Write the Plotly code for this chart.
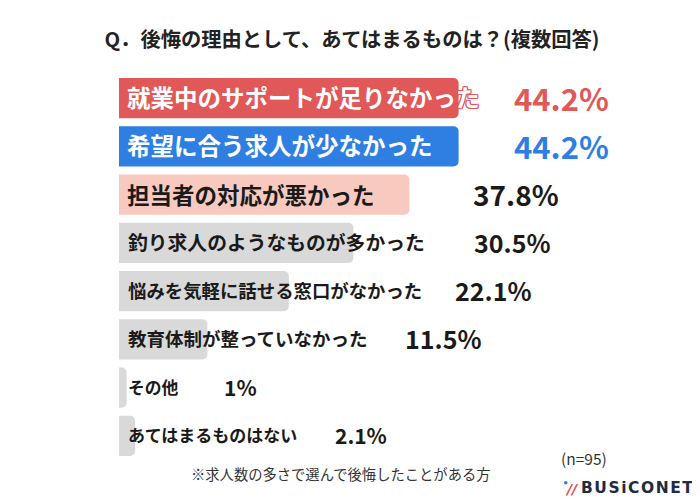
import plotly.graph_objects as go

# ---- data ----
categories = [
    "就業中のサポートが足りなかった",
    "希望に合う求人が少なかった",
    "担当者の対応が悪かった",
    "釣り求人のようなものが多かった",
    "悩みを気軽に話せる窓口がなかった",
    "教育体制が整っていなかった",
    "その他",
    "あてはまるものはない",
]
values = [44.2, 44.2, 37.8, 30.5, 22.1, 11.5, 1, 2.1]
value_labels = ["44.2%", "44.2%", "37.8%", "30.5%", "22.1%", "11.5%", "1%", "2.1%"]

title_text = "Q．後悔の理由として、あてはまるものは？(複数回答)"
footnote_text = "※求人数の多さで選んで後悔したことがある方"
n_text = "(n=95)"
brand_text = "BUSiCONET"

# ---- styles ----
RED = "#e05858"
BLUE = "#2f7fe2"
PINK = "#f8c9bf"
GRAY = "#d9d9d9"
DARK = "#1a1a1a"
bar_colors = [RED, BLUE, PINK, GRAY, GRAY, GRAY, GRAY, GRAY]
label_colors = ["white", "white", DARK, DARK, DARK, DARK, DARK, DARK]
label_sizes = [23.5, 23.5, 22.5, 19.8, 18.4, 18.5, 16.8, 17]
label_shift = [6, 6, 6, 7, 7, 7, 7, 7]
value_colors = [RED, BLUE, DARK, DARK, DARK, DARK, DARK, DARK]
value_sizes = [31, 31, 28, 25, 25, 25, 21, 21]
value_offset_px = [53, 53, 62, 119, 164, 196, 95, 198]

FONT = "Noto Sans CJK JP"
OFF = 8  # page body margin offset
W, H = 700 - OFF, 500 - OFF
ML, MR, MT, MB = 119 - OFF, 120, 74 - OFF, 40
XMAX = 60


def px_x(px):
    return (px - OFF - ML) / (W - ML - MR)


def px_y(py):
    return (H - MB - (py - OFF)) / (H - MT - MB)


fig = go.Figure()
fig.add_trace(go.Bar(
    x=values,
    y=list(range(len(categories))),
    orientation="h",
    width=0.83,
    marker=dict(color=bar_colors, cornerradius=5, line=dict(width=0)),
    hoverinfo="skip",
))

annotations = []
outline = ", ".join(f"{dx}px {dy}px 0 {RED}" for dx, dy in
                    [(1, 0), (-1, 0), (0, 1), (0, -1), (1, 1), (-1, -1), (1, -1), (-1, 1)])
for i, (cat, v) in enumerate(zip(categories, values)):
    font = dict(family=FONT, size=label_sizes[i], color=label_colors[i], weight="bold")
    if i == 0:
        font["shadow"] = outline
    annotations.append(dict(
        x=0, y=i, xref="x", yref="y", text=cat, showarrow=False,
        xanchor="left", yanchor="middle", xshift=label_shift[i], yshift=1,
        font=font,
    ))
    annotations.append(dict(
        x=v, y=i, xref="x", yref="y", text=value_labels[i], showarrow=False,
        xanchor="left", yanchor="middle", xshift=value_offset_px[i], yshift=1,
        font=dict(family=FONT, size=value_sizes[i], color=value_colors[i], weight="bold"),
    ))

annotations.append(dict(
    x=px_x(341), y=px_y(474), xref="paper", yref="paper", text=footnote_text,
    showarrow=False, xanchor="center", yanchor="middle",
    font=dict(family=FONT, size=14.3, color="#333333"),
))
annotations.append(dict(
    x=px_x(559), y=px_y(458), xref="paper", yref="paper", text=n_text,
    showarrow=False, xanchor="left", yanchor="middle",
    font=dict(family=FONT, size=15.5, color="#333333"),
))
annotations.append(dict(
    x=px_x(579), y=px_y(488), xref="paper", yref="paper",
    text="\u200a".join(brand_text), showarrow=False, xanchor="left", yanchor="middle",
    font=dict(family="DejaVu Sans", size=15.5, color="#1f2a44", weight="bold"),
))
annotations.append(dict(
    x=px_x(563), y=px_y(489), xref="paper", yref="paper",
    text="//", showarrow=False, xanchor="left", yanchor="middle",
    font=dict(family="DejaVu Sans", size=14, color="#e5484d", weight="bold", style="italic"),
))

shapes = [dict(
    type="circle", xref="paper", yref="paper",
    x0=px_x(564), x1=px_x(567.5), y0=px_y(484.5), y1=px_y(481),
    fillcolor="#3a7bd5", line=dict(width=0),
)]

fig.update_layout(
    width=W, height=H,
    margin=dict(l=ML, r=MR, t=MT, b=MB),
    paper_bgcolor="white", plot_bgcolor="white",
    showlegend=False,
    title=dict(
        text=title_text, x=(352 - OFF) / W, y=1 - (40 - OFF) / H, xref="container", yref="container",
        xanchor="center", yanchor="middle",
        font=dict(family=FONT, size=20.3, color="#222222", weight="bold"),
    ),
    xaxis=dict(range=[0, XMAX], visible=False, fixedrange=True),
    yaxis=dict(range=[len(categories) - 0.5, -0.5], visible=False, fixedrange=True),
    annotations=annotations,
    shapes=shapes,
)

fig.write_html("out.html")
